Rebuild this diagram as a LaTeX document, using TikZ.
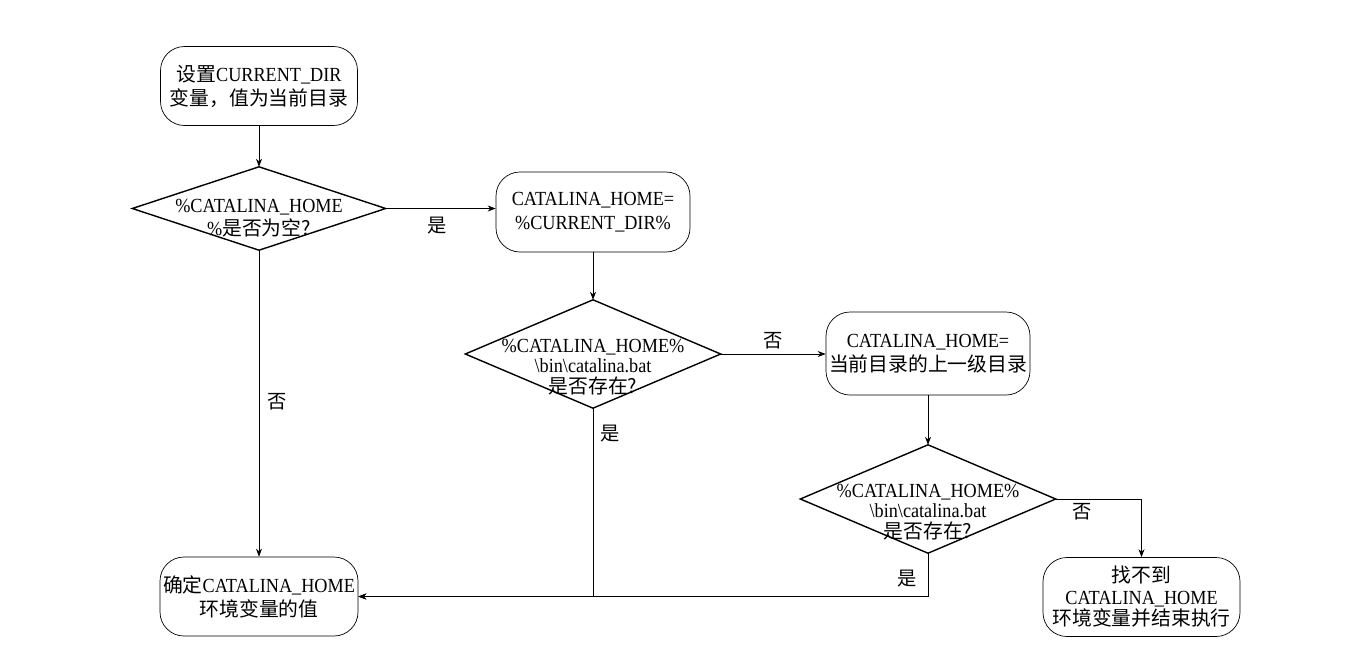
\documentclass[tikz,border=0pt]{standalone}
\usepackage{fontspec}
\setmainfont{Liberation Serif}[FakeStretch=0.91]
\newfontfamily\cjk{Noto Sans CJK SC}[Scale=0.99]
\usetikzlibrary{arrows.meta}
\newcommand{\zh}[1]{{\cjk #1}}
\begin{document}
\begin{tikzpicture}[x=1pt,y=-1pt,
  box/.style={draw, line width=0.7pt, rounded corners=24pt, minimum width=197pt, minimum height=79pt, align=center, inner sep=0pt, font=\fontsize{20}{24}\selectfont},
  diashape/.style={minimum width=255pt, minimum height=108pt, inner sep=0pt},
  diatext/.style={align=center, inner sep=0pt, font=\fontsize{20}{20.5}\selectfont},
  diaedge/.style={line width=1.4pt, line join=miter},
  arr/.style={-{Stealth[length=8pt,width=6pt]}, line width=0.7pt},
  lbl/.style={font=\cjk\fontsize{19.5}{20}\selectfont, inner sep=0pt}]
\useasboundingbox (0,0) rectangle (1364,664);

% boxes
\node[box] (n1) at (259,86) {\zh{设置}CURRENT\_DIR\\\zh{变量，值为当前目录}};
\node[box, minimum width=194pt, minimum height=80pt] (n3) at (593,212) {CATALINA\_HOME=\\\%CURRENT\_DIR\%};
\node[box, minimum width=204pt, minimum height=83pt] (n5) at (928,353.5) {CATALINA\_HOME=\\\zh{当前目录的上一级目录}};
\node[box, minimum width=198pt] (n7) at (259,596.5) {\zh{确定}CATALINA\_HOME\\\zh{环境变量的值}};
\node[box, font=\fontsize{20}{21.5}\selectfont] (n8) at (1141.5,597) {\zh{找不到}\\CATALINA\_HOME\\\zh{环境变量并结束执行}};

% diamonds
\node[diashape, minimum width=253pt, minimum height=83pt] (d2) at (259,208.5) {};
\node[diatext, font=\fontsize{20}{23}\selectfont] (d2t) at (259,218) {\%CATALINA\_HOME\\\%\zh{是否为空?}};
\draw[diaedge] (d2.north)--(d2.east)--(d2.south)--(d2.west)--cycle;

\node[diashape] (d4) at (593,354) {};
\node[diatext] (d4t) at (593,367) {\%CATALINA\_HOME\%\\\textbackslash bin\textbackslash catalina.bat\\\zh{是否存在?}};
\draw[diaedge] (d4.north)--(d4.east)--(d4.south)--(d4.west)--cycle;

\node[diashape] (d6) at (928,499) {};
\node[diatext] (d6t) at (928,512) {\%CATALINA\_HOME\%\\\textbackslash bin\textbackslash catalina.bat\\\zh{是否存在?}};
\draw[diaedge] (d6.north)--(d6.east)--(d6.south)--(d6.west)--cycle;

% connectors
\draw[arr] (n1.south) -- (d2.north);
\draw[arr] (d2.east) -- (d2.east -| n3.west);
\draw[arr] (d2.south) -- (n7.north);
\draw[arr] (n3.south) -- (d4.north);
\draw[arr] (d4.east) -- (d4.east -| n5.west);
\draw[arr] (d4.south) |- (n7.east);
\draw[arr] (n5.south) -- (d6.north);
\draw[arr] (d6.south) |- (n7.east);
\draw[arr] (d6.east) -| (n8.north);

% labels
\node[lbl] (l1) at (437,226) {是};
\node[lbl] (l2) at (277,402) {否};
\node[lbl] (l3) at (773,341) {否};
\node[lbl] (l4) at (610,434) {是};
\node[lbl] (l5) at (907,579) {是};
\node[lbl] (l6) at (1082,512) {否};
\end{tikzpicture}
\end{document}
